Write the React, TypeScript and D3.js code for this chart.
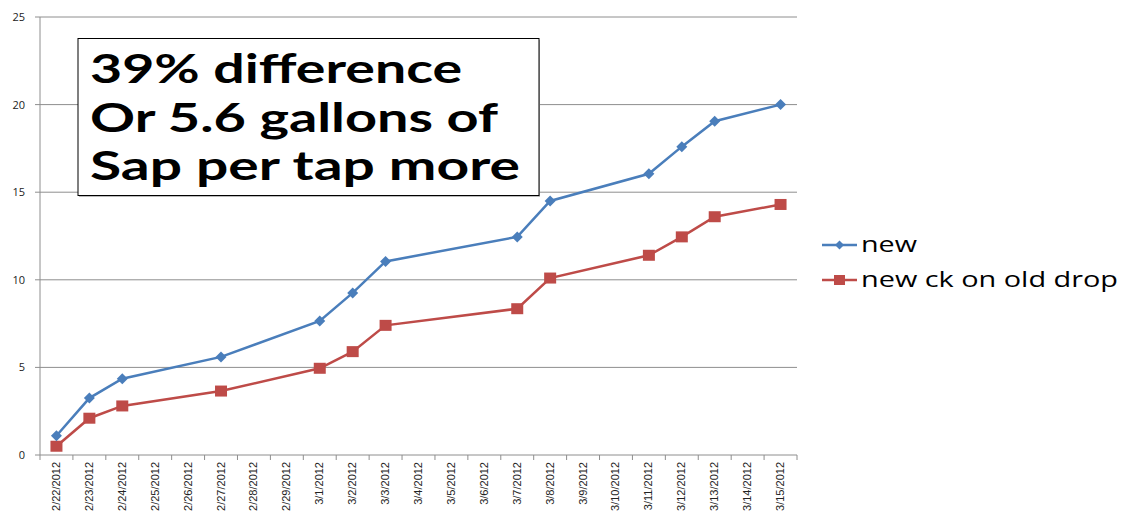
import React from "react";
import * as d3 from "d3";

const categories = [
  "2/22/2012", "2/23/2012", "2/24/2012", "2/25/2012", "2/26/2012", "2/27/2012",
  "2/28/2012", "2/29/2012", "3/1/2012", "3/2/2012", "3/3/2012", "3/4/2012",
  "3/5/2012", "3/6/2012", "3/7/2012", "3/8/2012", "3/9/2012", "3/10/2012",
  "3/11/2012", "3/12/2012", "3/13/2012", "3/14/2012", "3/15/2012",
];
const pointDates = [
  "2/22/2012", "2/23/2012", "2/24/2012", "2/27/2012", "3/1/2012", "3/2/2012",
  "3/3/2012", "3/7/2012", "3/8/2012", "3/11/2012", "3/12/2012", "3/13/2012", "3/15/2012",
];
const newValues = [1.1, 3.25, 4.35, 5.6, 7.65, 9.25, 11.05, 12.45, 14.5, 16.05, 17.6, 19.05, 20.0];
const oldDropValues = [0.5, 2.1, 2.8, 3.65, 4.95, 5.9, 7.4, 8.35, 10.1, 11.4, 12.45, 13.6, 14.3];
const yTicks = [0, 5, 10, 15, 20, 25];
const seriesNames = ["new", "new ck on old drop"];
const noteLines = ["39% difference", "Or 5.6 gallons of", "Sap per tap more"];

const BLUE = "#4A7EBB";
const RED = "#BE4B48";
const GRID = "#8E8E8E";

export default function App() {
  const left = 40, right = 797, top = 17, bottom = 455;
  const x = d3.scaleBand<string>().domain(categories).range([left, right]);
  const y = d3.scaleLinear().domain([0, 25]).range([bottom, top]);
  const cx = (d: string) => (x(d) as number) + x.bandwidth() / 2;

  const line = d3.line<[string, number]>().x((d) => cx(d[0])).y((d) => y(d[1]));
  const blueData: [string, number][] = pointDates.map((d, i) => [d, newValues[i]]);
  const redData: [string, number][] = pointDates.map((d, i) => [d, oldDropValues[i]]);

  const diamond = (px: number, py: number, r: number) =>
    `M${px},${py - r}L${px + r},${py}L${px},${py + r}L${px - r},${py}Z`;

  const boundaries = d3.range(categories.length + 1).map((i) => left + i * x.bandwidth());
  const noteWidths = [372, 408, 430];

  return (
    <svg width={1125} height={515} style={{ position: "absolute", left: 0, top: 0, background: "#fff" }}>
      {/* gridlines */}
      {yTicks.map((t) => (
        <g key={t}>
          {t > 0 && <line x1={left} x2={right} y1={y(t)} y2={y(t)} stroke={GRID} strokeWidth={1} />}
          <line x1={left - 5} x2={left} y1={y(t)} y2={y(t)} stroke={GRID} strokeWidth={1} />
          <text x={25} y={y(t) + 4} textAnchor="end" fontFamily="'Open Sans', sans-serif" fontSize={11} fill="#222">
            {t}
          </text>
        </g>
      ))}
      {/* axes */}
      <line x1={left} x2={left} y1={top} y2={bottom} stroke={GRID} strokeWidth={1} />
      <line x1={left} x2={right} y1={bottom} y2={bottom} stroke={GRID} strokeWidth={1} />
      {boundaries.map((bx, i) => (
        <line key={i} x1={bx} x2={bx} y1={bottom} y2={bottom + 5} stroke={GRID} strokeWidth={1} />
      ))}
      {categories.map((c) => (
        <text
          key={c}
          transform={`translate(${cx(c) + 3.5},${bottom + 7}) rotate(-90)`}
          textAnchor="end"
          fontFamily="'Liberation Sans Narrow', 'Liberation Sans', sans-serif"
          fontSize={11}
          fill="#222"
        >
          {c}
        </text>
      ))}

      {/* series */}
      <path d={line(redData) as string} fill="none" stroke={RED} strokeWidth={2.5} />
      {redData.map((d, i) => (
        <rect key={i} x={cx(d[0]) - 6} y={y(d[1]) - 5.5} width={12} height={11} fill={RED} />
      ))}
      <path d={line(blueData) as string} fill="none" stroke={BLUE} strokeWidth={2.5} />
      {blueData.map((d, i) => (
        <path key={i} d={diamond(cx(d[0]), y(d[1]), 5.5)} fill={BLUE} />
      ))}

      {/* note box */}
      <rect x={79} y={40} width={461} height={157} fill="#bbb" />
      <rect x={78} y={38.5} width={461} height={157} fill="#fff" stroke="#000" strokeWidth={1} />
      {noteLines.map((t, i) => (
        <text
          key={i}
          x={90}
          y={83 + i * 48.5}
          fontFamily="Lato, 'Open Sans', sans-serif"
          fontWeight={700}
          fontSize={40}
          fill="#000"
          textLength={noteWidths[i]}
          lengthAdjust="spacingAndGlyphs"
        >
          {t}
        </text>
      ))}

      {/* legend */}
      <line x1={822} x2={857} y1={245} y2={245} stroke={BLUE} strokeWidth={2.5} />
      <path d={diamond(839.5, 245, 4.5)} fill={BLUE} />
      <text x={861} y={252} fontFamily="'Open Sans', sans-serif" fontSize={21} fill="#000" textLength={56} lengthAdjust="spacingAndGlyphs">
        {seriesNames[0]}
      </text>
      <line x1={822} x2={857} y1={280} y2={280} stroke={RED} strokeWidth={2.5} />
      <rect x={834} y={275} width={11} height={10} fill={RED} />
      <text x={861} y={287} fontFamily="'Open Sans', sans-serif" fontSize={21} fill="#000" textLength={257} lengthAdjust="spacingAndGlyphs">
        {seriesNames[1]}
      </text>
    </svg>
  );
}
